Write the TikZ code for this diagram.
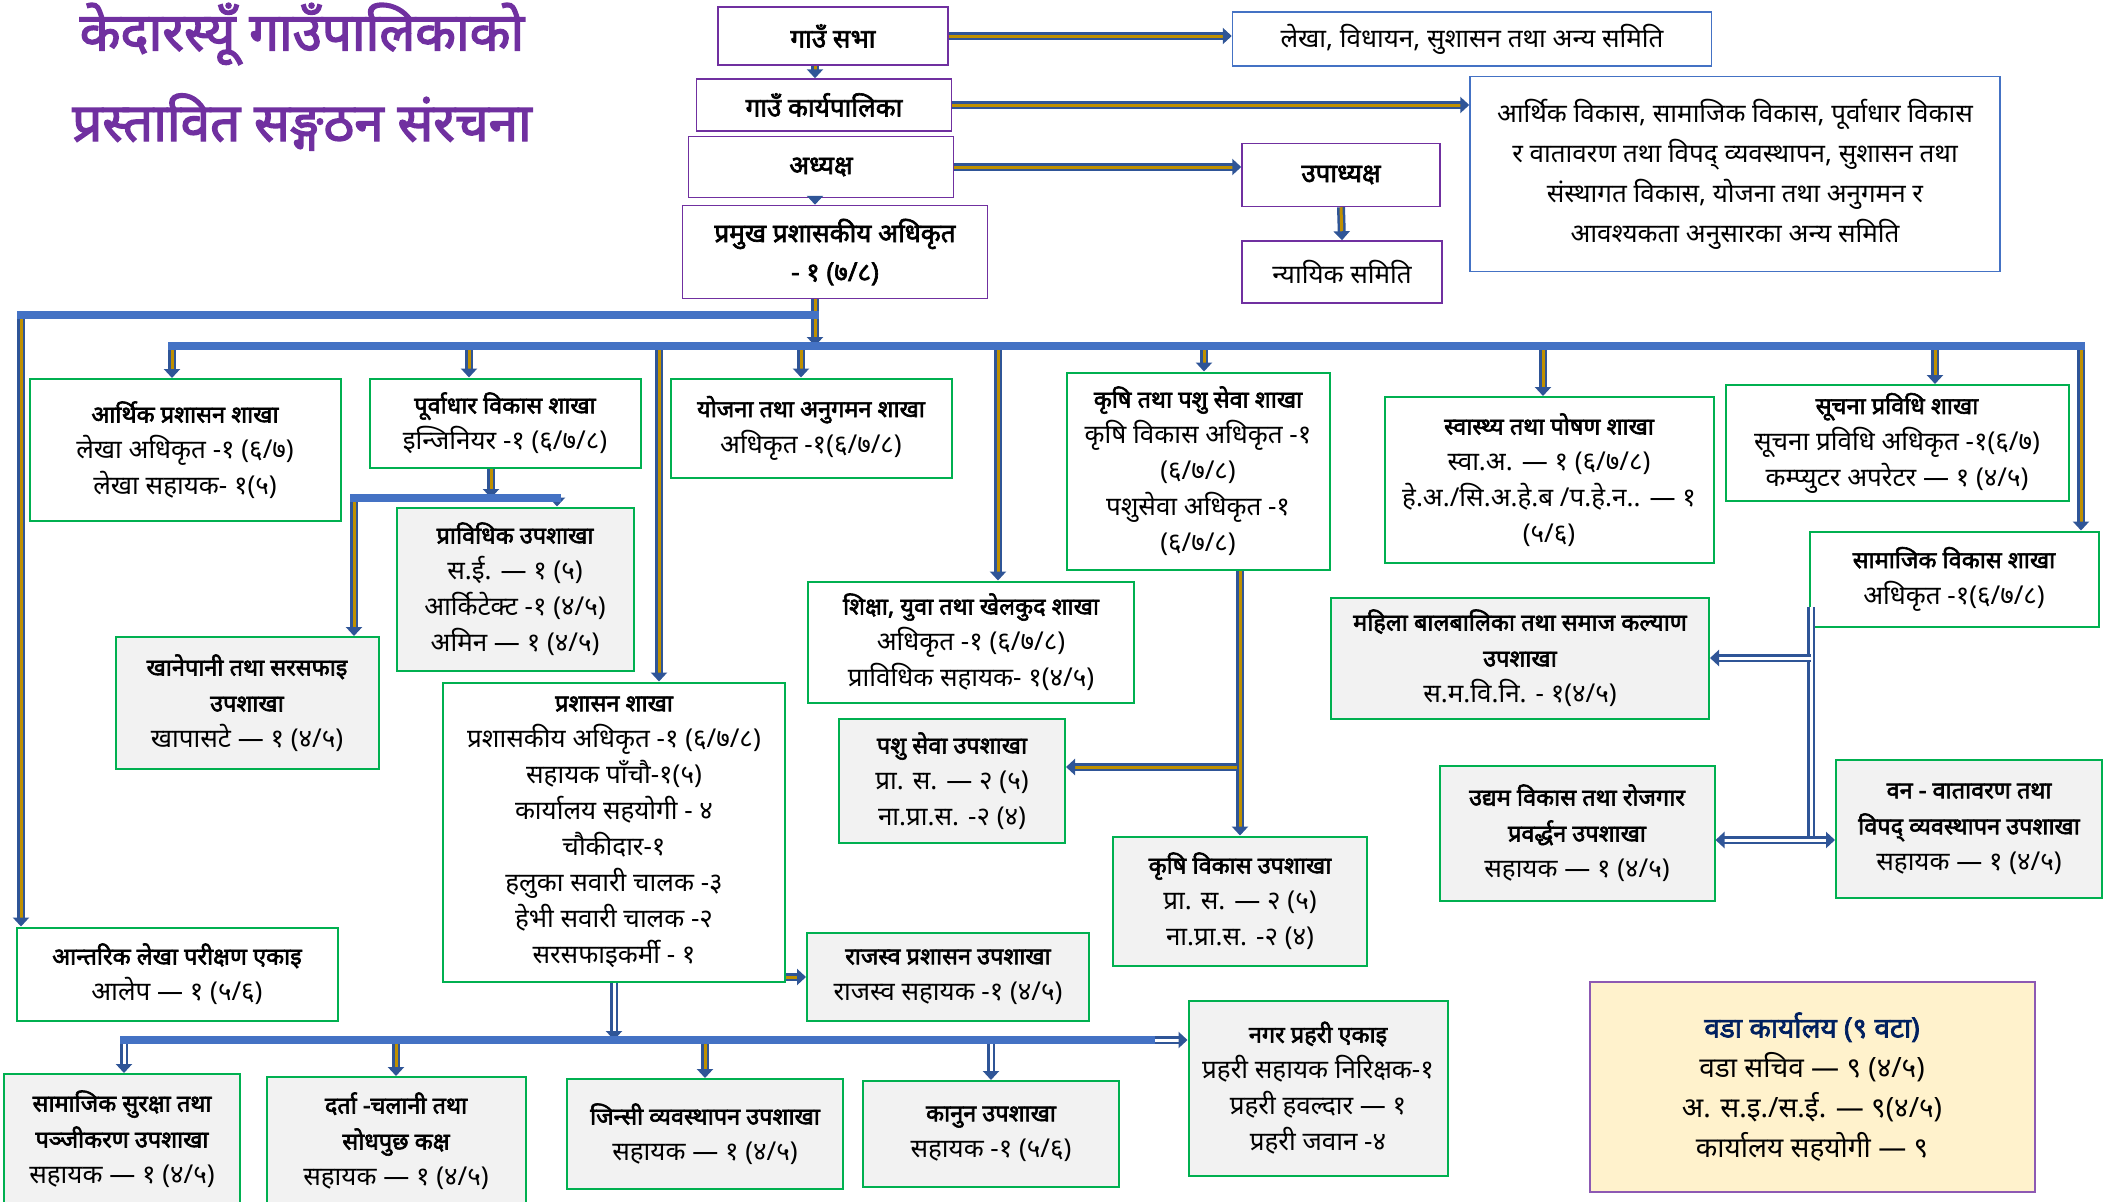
\documentclass[tikz,border=0pt]{standalone}
\usepackage{fontspec}
\setmainfont{Noto Sans}[Script=Devanagari, BoldFont={Noto Sans}, BoldFeatures={FakeBold=2.5}]
\usetikzlibrary{positioning,arrows.meta,calc}
\definecolor{sakhagreen}{HTML}{00B050}
\definecolor{toppurple}{HTML}{7030A0}
\definecolor{samitiblue}{HTML}{4472C4}
\definecolor{subgray}{HTML}{F2F2F2}
\definecolor{barblue}{HTML}{4472C4}
\definecolor{arrblue}{HTML}{2F5597}
\definecolor{arrgold}{HTML}{BF9000}
\definecolor{wadafill}{HTML}{FFF2CC}
\definecolor{wadablue}{HTML}{002060}
\newcommand{\shir}[1]{{\fontsize{23.5}{36}\selectfont\bfseries #1}}

\begin{document}
\begin{tikzpicture}[x=1pt, y=-1pt,
						every node/.style={align=center, inner sep=2pt, font=\fontsize{26}{36}\selectfont},
						box/.style 2 args={minimum width=#1, minimum height=#2},
						title/.style={text=toppurple, inner sep=0pt, font=\bfseries\fontsize{53}{56}\selectfont},
						shakha/.style={draw=sakhagreen, line width=2pt, fill=white},
						upshakha/.style={shakha, fill=subgray},
						mukhya/.style={draw=toppurple, line width=1.5pt, font=\bfseries\fontsize{26}{36}\selectfont},
						samiti/.style={draw=samitiblue, line width=1.5pt},
						wada/.style={draw=toppurple!80, line width=2pt, fill=wadafill, font=\fontsize{28}{40}\selectfont},
						bar/.style={draw=barblue, line width=8pt, line cap=rect},
						link/.style={draw=arrblue, line width=2.5pt, double=arrgold, double distance=3pt},
						wlink/.style={link, double=white},
						arr/.style={link, ->},
						warr/.style={wlink, ->},
						>={Triangle[width=16pt,length=9pt]}]
					\useasboundingbox (0,0) rectangle (2113,1202);
					
					\node[title] (shirshak) at (302,34) {केदारस्यूँ गाउँपालिकाको};
					\node[title] (shirshak2) at (302,122) {प्रस्तावित सङ्गठन संरचना};
					
					\node[mukhya, box={230}{58}] (gsabha) at (833,36) {गाउँ सभा};
					\node[samiti, box={479}{54}] (lekha) at (1472,39) {लेखा, विधायन, सुशासन तथा अन्य समिति};
					\node[mukhya, box={255}{52}] (karya) at (824,105) {गाउँ कार्यपालिका};
					\node[samiti, box={530}{195}, font=\fontsize{26}{40}\selectfont] (artha) at (1735,174) {आर्थिक विकास, सामाजिक विकास, पूर्वाधार विकास\\र वातावरण तथा विपद् व्यवस्थापन, सुशासन तथा\\संस्थागत विकास, योजना तथा अनुगमन र\\आवश्यकता अनुसारका अन्य समिति};
					\node[mukhya, box={265}{61}] (adhyaksha) at (821,167) {अध्यक्ष};
					\node[mukhya, box={198}{63}] (upadhyaksha) at (1341,175) {उपाध्यक्ष};
					\node[mukhya, box={200}{62}, font=\fontsize{26}{36}\selectfont] (nyayik) at (1342,272) {न्यायिक समिति};
					\node[mukhya, box={305}{93}, font=\bfseries\fontsize{26}{39}\selectfont] (pramukh) at (835,252) {प्रमुख प्रशासकीय अधिकृत\\- १ (७/८)};
					
					\node[shakha, box={311}{142}] (arthik) at (185,450) {\shir{आर्थिक प्रशासन शाखा}\\लेखा अधिकृत -१ (६/७)\\लेखा सहायक- १(५)};
					\node[shakha, box={271}{89}] (purvadhar) at (505,423) {\shir{पूर्वाधार विकास शाखा}\\इन्जिनियर -१ (६/७/८)};
					\node[shakha, box={281}{99}] (yojana) at (811,428) {\shir{योजना तथा अनुगमन शाखा}\\अधिकृत -१(६/७/८)};
					\node[shakha, box={263}{197}] (krishipashu) at (1198,471) {\shir{कृषि तथा पशु सेवा शाखा}\\कृषि विकास अधिकृत -१\\(६/७/८)\\पशुसेवा अधिकृत -१\\(६/७/८)};
					\node[shakha, box={329}{166}] (swasthya) at (1549,480) {\shir{स्वास्थ्य तथा पोषण शाखा}\\स्वा.अ. — १ (६/७/८)\\हे.अ./सि.अ.हे.ब /प.हे.न.. — १\\(५/६)};
					\node[shakha, box={343}{116}] (suchana) at (1897,443) {\shir{सूचना प्रविधि शाखा}\\सूचना प्रविधि अधिकृत -१(६/७)\\कम्प्युटर अपरेटर — १ (४/५)};
					\node[upshakha, box={237}{163}] (pravidhik) at (515,589) {\shir{प्राविधिक उपशाखा}\\स.ई. — १ (५)\\आर्किटेक्ट -१ (४/५)\\अमिन — १ (४/५)};
					\node[upshakha, box={263}{132}] (khanepani) at (247,703) {\shir{खानेपानी तथा सरसफाइ}\\\shir{उपशाखा}\\खापासटे — १ (४/५)};
					\node[shakha, box={326}{121}] (shiksha) at (971,642) {\shir{शिक्षा, युवा तथा खेलकुद शाखा}\\अधिकृत -१ (६/७/८)\\प्राविधिक सहायक- १(४/५)};
					\node[shakha, box={289}{95}] (samajik) at (1954,579) {\shir{सामाजिक विकास शाखा}\\अधिकृत -१(६/७/८)};
					\node[upshakha, box={378}{121}] (mahila) at (1520,658) {\shir{महिला बालबालिका तथा समाज कल्याण}\\\shir{उपशाखा}\\स.म.वि.नि. - १(४/५)};
					\node[shakha, box={342}{299}] (prashasan) at (614,832) {\shir{प्रशासन शाखा}\\प्रशासकीय अधिकृत -१ (६/७/८)\\सहायक पाँचौ-१(५)\\कार्यालय सहयोगी - ४\\चौकीदार-१\\हलुका सवारी चालक -३\\हेभी सवारी चालक -२\\सरसफाइकर्मी - १};
					\node[upshakha, box={226}{124}] (pashu) at (952,781) {\shir{पशु सेवा उपशाखा}\\प्रा. स. — २ (५)\\ना.प्रा.स. -२ (४)};
					\node[upshakha, box={254}{129}] (krishivikas) at (1240,901) {\shir{कृषि विकास उपशाखा}\\प्रा. स. — २ (५)\\ना.प्रा.स. -२ (४)};
					\node[upshakha, box={275}{135}] (udyam) at (1577,833) {\shir{उद्यम विकास तथा  रोजगार}\\\shir{प्रवर्द्धन उपशाखा}\\सहायक — १ (४/५)};
					\node[upshakha, box={266}{138}] (van) at (1969,829) {\shir{वन - वातावरण  तथा}\\\shir{विपद् व्यवस्थापन उपशाखा}\\सहायक — १ (४/५)};
					\node[shakha, box={321}{93}] (antarik) at (177,974) {\shir{आन्तरिक लेखा परीक्षण  एकाइ}\\आलेप — १ (५/६)};
					\node[upshakha, box={282}{88}] (rajaswa) at (948,977) {\shir{राजस्व प्रशासन उपशाखा}\\राजस्व सहायक -१ (४/५)};
					\node[upshakha, box={259}{175}] (nagar) at (1318,1088) {\shir{नगर प्रहरी एकाइ}\\प्रहरी सहायक निरिक्षक-१\\प्रहरी हवल्दार — १\\प्रहरी जवान -४};
					\node[upshakha, box={236}{130}] (suraksha) at (122,1139) {\shir{सामाजिक सुरक्षा तथा}\\\shir{पञ्जीकरण उपशाखा}\\सहायक — १ (४/५)};
					\node[upshakha, box={259}{128}] (darta) at (396,1141) {\shir{दर्ता -चलानी तथा}\\\shir{सोधपुछ कक्ष}\\सहायक — १ (४/५)};
					\node[upshakha, box={276}{110}] (jinsi) at (705,1134) {\shir{जिन्सी व्यवस्थापन उपशाखा}\\सहायक — १ (४/५)};
					\node[upshakha, box={256}{106}] (kanun) at (991,1134) {\shir{कानुन उपशाखा}\\सहायक -१ (५/६)};
					\node[wada, box={445}{210}] (wada) at (1812,1087) {\textcolor{wadablue}{\textbf{वडा कार्यालय (९ वटा)}}\\वडा सचिव — ९ (४/५)\\अ. स.इ./स.ई. — ९(४/५)\\कार्यालय सहयोगी — ९};
					
					\coordinate (spine) at (815,0);
					\coordinate (lbar) at (21,315);
					\coordinate (mbar) at (172,346);
					\coordinate (mbarend) at (2081,346);
					\coordinate (pvj) at (491,498);
					\coordinate (subbar) at (354,498);
					\coordinate (subbarend) at (557,498);
					\coordinate (kpj) at (1237,767);
					\coordinate (bbar) at (124,1040);
					\coordinate (bbarend) at (1151,1040);
					\coordinate (svtop) at (1811,607);
					\coordinate (svbot) at (1811,840);
					
					\draw[arr] (gsabha.south -| spine) -- (karya.north -| spine);
					\draw[arr] (adhyaksha.south -| spine) -- (pramukh.north -| spine);
					\draw[arr] (gsabha.east) -- (gsabha.east -| lekha.west);
					\draw[arr] (karya.east) -- (karya.east -| artha.west);
					\draw[arr] (adhyaksha.east) -- (adhyaksha.east -| upadhyaksha.west);
					\draw[arr] (upadhyaksha.south) -- (nyayik.north);
					\draw[arr] (pramukh.south -| spine) -- (mbar -| spine);
					
					\draw[arr] (lbar) -- (lbar |- antarik.north);
					\draw[arr] (mbar) -- (mbar |- arthik.north);
					\draw[arr] (mbarend) -- (mbarend |- samajik.north);
					\foreach \n/\x in {purvadhar/469, yojana/801, krishipashu/1204, swasthya/1543, suchana/1935, prashasan/659, shiksha/998}
						\draw[arr] (\x,346) -- (\x,0 |- \n.north);
					
					\draw[arr] (purvadhar.south -| pvj) -- (pvj);
					\draw[arr] (subbarend) -- (subbarend |- pravidhik.north);
					\draw[arr] (subbar) -- (subbar |- khanepani.north);
					
					\draw[arr] (krishipashu.south -| krishivikas.north) -- (krishivikas.north);
					\draw[arr] (kpj) -- (kpj -| pashu.east);
					\draw[arr] (rajaswa.west -| prashasan.east) -- (rajaswa.west);
					
					\draw[warr] (prashasan.south) -- (prashasan.south |- bbar);
					\draw[warr] (bbar) -- (bbar |- suraksha.north);
					\draw[arr] (bbar -| darta.north) -- (darta.north);
					\draw[arr] (bbar -| jinsi.north) -- (jinsi.north);
					\draw[warr] (bbar -| kanun.north) -- (kanun.north);
					\draw[warr] (bbarend) -- (bbarend -| nagar.west);
					
					\draw[wlink] (svtop) -- (svbot);
					\draw[warr] (svtop |- mahila.east) -- (mahila.east);
					\draw[wlink, <->] (svbot -| udyam.east) -- (svbot -| van.west);
					
					\draw[bar] (lbar) -- (lbar -| spine);
					\draw[bar] (mbar) -- (mbarend);
					\draw[bar] (subbar) -- (subbarend);
					\draw[bar] (bbar) -- (bbarend);
				\end{tikzpicture}
\end{document}
